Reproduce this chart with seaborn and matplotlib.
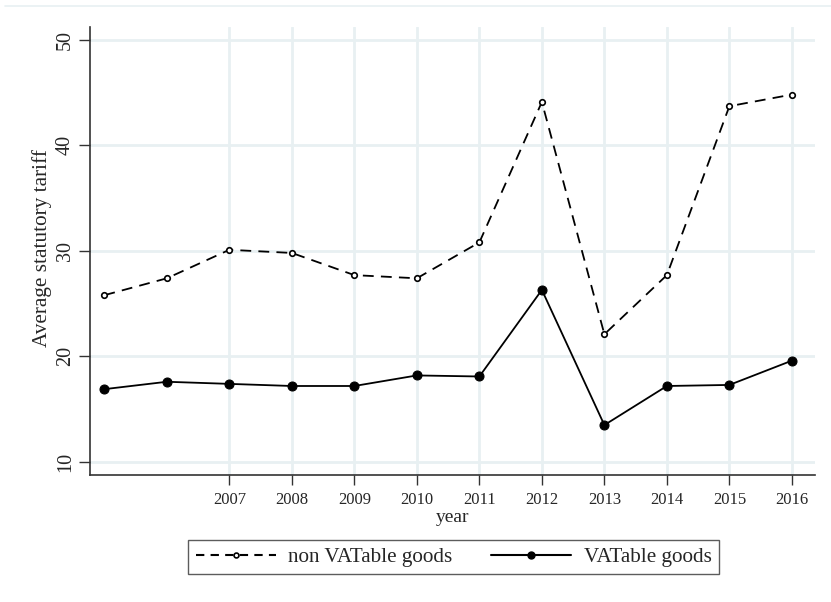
import matplotlib
matplotlib.use("Agg")
import matplotlib.pyplot as plt
from matplotlib.lines import Line2D
import seaborn as sns
import pandas as pd

years = [2005, 2006, 2007, 2008, 2009, 2010, 2011, 2012, 2013, 2014, 2015, 2016]
non_vatable = [25.8, 27.4, 30.1, 29.8, 27.7, 27.4, 30.8, 44.1, 22.1, 27.7, 43.7, 44.8]
vatable = [16.9, 17.6, 17.4, 17.2, 17.2, 18.2, 18.1, 26.3, 13.5, 17.2, 17.3, 19.6]
xtick_years = [2007, 2008, 2009, 2010, 2011, 2012, 2013, 2014, 2015, 2016]
ytick_vals = [10, 20, 30, 40, 50]

sns.set_theme(style="white")
plt.rcParams["font.family"] = ["Liberation Serif", "DejaVu Serif"]

df_non = pd.DataFrame({"year": years, "tariff": non_vatable})
df_vat = pd.DataFrame({"year": years, "tariff": vatable})

fig = plt.figure(figsize=(8.31, 6.02), dpi=100)
ax = fig.add_axes([90 / 831, 127 / 602, 725 / 831, 448 / 602])

grid_c = "#e8f0f2"
for yv in ytick_vals:
    ax.axhline(yv, color=grid_c, lw=2.0, zorder=0)
for xv in xtick_years:
    ax.axvline(xv, color=grid_c, lw=2.0, zorder=0)

sns.lineplot(data=df_non, x="year", y="tariff", ax=ax, color="black", lw=1.3,
             linestyle=(0, (6, 4)), marker="o", markersize=4,
             markerfacecolor="white", markeredgecolor="black", markeredgewidth=1.2)
sns.lineplot(data=df_vat, x="year", y="tariff", ax=ax, color="black", lw=1.3,
             marker="o", markersize=6.5, markerfacecolor="black",
             markeredgecolor="black")

ax.set_xlim(2004.77, 2016.37)
ax.set_ylim(8.77, 51.2)
ax.set_xticks(xtick_years)
ax.set_xticklabels([str(y) for y in xtick_years], fontsize=12)
ax.set_yticks(ytick_vals)
ax.set_yticklabels([str(v) for v in ytick_vals], fontsize=14.5, rotation=90, va="center")
ax.tick_params(axis="y", left=True, length=8, width=1, color="#333333", pad=3)
ax.tick_params(axis="x", bottom=True, length=7, width=1, color="#333333", pad=5)

for s in ["top", "right"]:
    ax.spines[s].set_visible(False)
for s in ["left", "bottom"]:
    ax.spines[s].set_color("#333333")
    ax.spines[s].set_linewidth(1.2)

ax.set_xlabel("year", fontsize=14, labelpad=1)
ax.set_ylabel("Average statutory tariff", fontsize=15.3)
ax.yaxis.set_label_coords(-0.053, 0.507)

handles = [
    Line2D([], [], color="black", lw=1.5, linestyle=(0, (4, 3)), marker="o",
           markersize=3.5, markerfacecolor="white", markeredgecolor="black",
           markeredgewidth=1.2),
    Line2D([], [], color="black", lw=1.5, marker="o", markersize=5,
           markerfacecolor="black"),
]
leg = fig.legend(handles, ["non VATable goods", "VATable goods"], ncol=2,
                 loc="center", bbox_to_anchor=(453.5 / 831, 1 - 557 / 602),
                 fontsize=15.2, frameon=True, fancybox=False, handlelength=3.8,
                 columnspacing=1.8, borderpad=0.35, handletextpad=0.6)
leg.get_frame().set_edgecolor("#333333")
leg.get_frame().set_linewidth(1.0)

fig.add_artist(Line2D([5 / 831, 1.0], [1 - 5.5 / 602, 1 - 5.5 / 602],
                      color="#e8f0f2", lw=1.2, transform=fig.transFigure))

fig.savefig("out.png", dpi=100, facecolor="white")
